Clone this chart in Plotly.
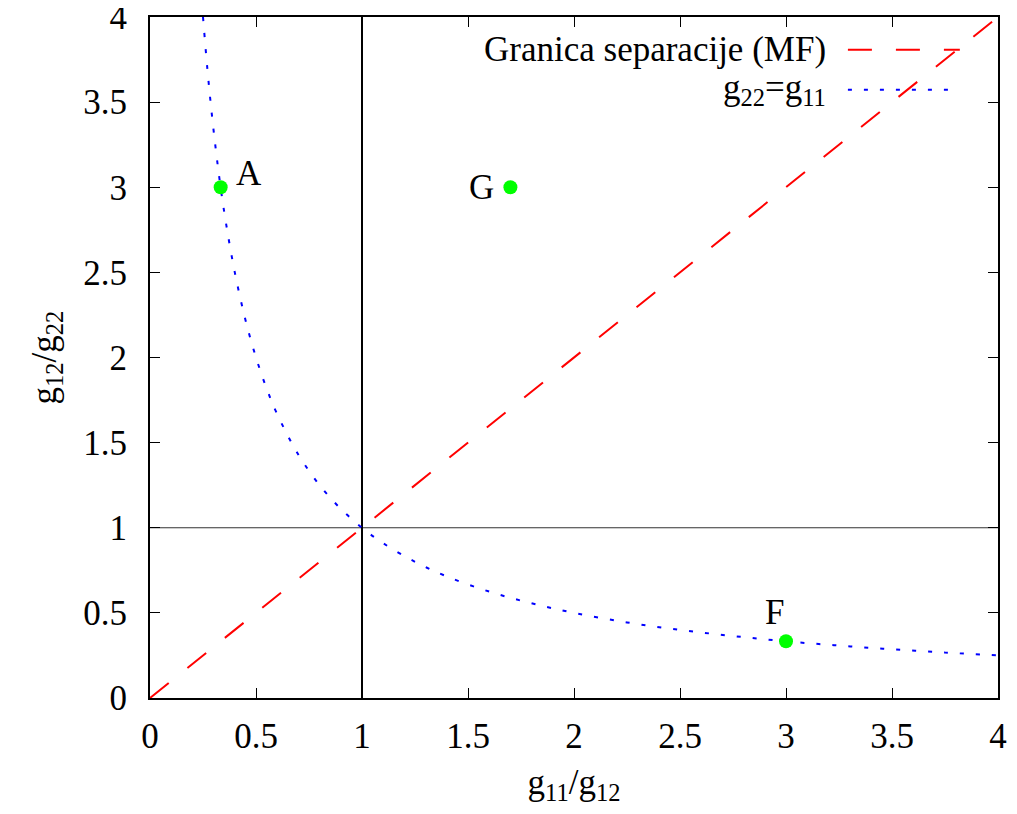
import plotly.graph_objects as go

# ---- data ----
diag_x = [0.0, 4.0]
diag_y = [0.0, 4.0]

curve_x = [0.25, 0.27, 0.29, 0.31, 0.333, 0.36, 0.4, 0.45, 0.5, 0.55, 0.6, 0.7, 0.8, 0.9, 1.0,
           1.1, 1.25, 1.4, 1.6, 1.8, 2.0, 2.25, 2.5, 2.75, 3.0, 3.25, 3.5, 3.75, 4.0]
curve_y = [4.0, 3.704, 3.448, 3.226, 3.0, 2.778, 2.5, 2.222, 2.0, 1.818, 1.667, 1.429, 1.25, 1.111, 1.0,
           0.909, 0.8, 0.714, 0.625, 0.556, 0.5, 0.444, 0.4, 0.364, 0.333, 0.308, 0.286, 0.267, 0.25]

vline_x = [1.0, 1.0]
vline_y = [0.0, 4.0]
hline_x = [0.0, 4.0]
hline_y = [1.0, 1.0]

point_names = ["A", "G", "F"]
point_x = [1/3, 1.7, 3.0]
point_y = [3.0, 3.0, 1/3]

tick_vals = [0, 0.5, 1, 1.5, 2, 2.5, 3, 3.5, 4]
tick_text = ["0", "0.5", "1", "1.5", "2", "2.5", "3", "3.5", "4"]

legend_labels = ["Granica separacije (MF)", "g<sub>22</sub>=g<sub>11</sub>"]

FONT = "Liberation Serif"
FS = 35

fig = go.Figure()
fig.add_trace(go.Scatter(x=hline_x, y=hline_y, mode="lines",
                         line=dict(color="#333333", width=1), showlegend=False, hoverinfo="skip"))
fig.add_trace(go.Scatter(x=vline_x, y=vline_y, mode="lines",
                         line=dict(color="black", width=2), showlegend=False, hoverinfo="skip"))
fig.add_trace(go.Scatter(x=diag_x, y=diag_y, mode="lines",
                         line=dict(color="#ff0000", width=2, dash="24px,24px"), showlegend=False))
fig.add_trace(go.Scatter(x=curve_x, y=curve_y, mode="lines", line_shape="spline",
                         line=dict(color="#0000ff", width=2, dash="4px,12px"), showlegend=False))
fig.add_trace(go.Scatter(x=point_x, y=point_y, mode="markers",
                         marker=dict(color="#00ff00", size=14), showlegend=False))

# point labels
label_shift = [(28, 14), (-29, 0), (-12, 29)]
for name, px, py, (dx, dy) in zip(point_names, point_x, point_y, label_shift):
    fig.add_annotation(x=px, y=py, text=name, showarrow=False, xshift=dx, yshift=dy,
                       font=dict(family=FONT, size=FS, color="black"))

# manual gnuplot-style legend (text right, sample to the right)
leg_y = [0.952, 0.893]
leg_styles = [dict(color="#ff0000", width=2, dash="24px,24px"),
              dict(color="#0000ff", width=2, dash="4px,12px")]
for lab, yy, st in zip(legend_labels, leg_y, leg_styles):
    fig.add_annotation(x=0.800, y=yy, xref="paper", yref="paper", text=lab, showarrow=False,
                       xanchor="right", yanchor="middle",
                       font=dict(family=FONT, size=FS, color="black"))
    fig.add_shape(type="line", xref="paper", yref="paper", x0=0.823, x1=0.955, y0=yy, y1=yy,
                  line=st)

axis_common = dict(range=[0, 4], tickmode="array", tickvals=tick_vals, ticktext=tick_text,
                   ticks="inside", ticklen=10, tickwidth=1, ticklabeloverflow="allow",
                   tickcolor="black", showline=True, linecolor="black", linewidth=2,
                   mirror="ticks", showgrid=False, zeroline=False,
                   tickfont=dict(family=FONT, size=FS, color="black"))

fig.update_xaxes(**axis_common, ticklabelstandoff=6,
                 title=dict(text="g<sub>11</sub>/g<sub>12</sub>", font=dict(family=FONT, size=FS, color="black"),
                            standoff=14))
fig.update_yaxes(**axis_common, ticklabelstandoff=14,
                 title=dict(text="g<sub>12</sub>/g<sub>22</sub>", font=dict(family=FONT, size=FS, color="black"),
                            standoff=16))

# page body has an 8px margin: size the figure so the plot area lands where the reference has it
fig.update_layout(width=1009, height=806, margin=dict(l=142, r=19, t=9, b=116, autoexpand=False),
                  paper_bgcolor="white", plot_bgcolor="white",
                  font=dict(family=FONT, size=FS, color="black"))

fig.write_html("out.html")
